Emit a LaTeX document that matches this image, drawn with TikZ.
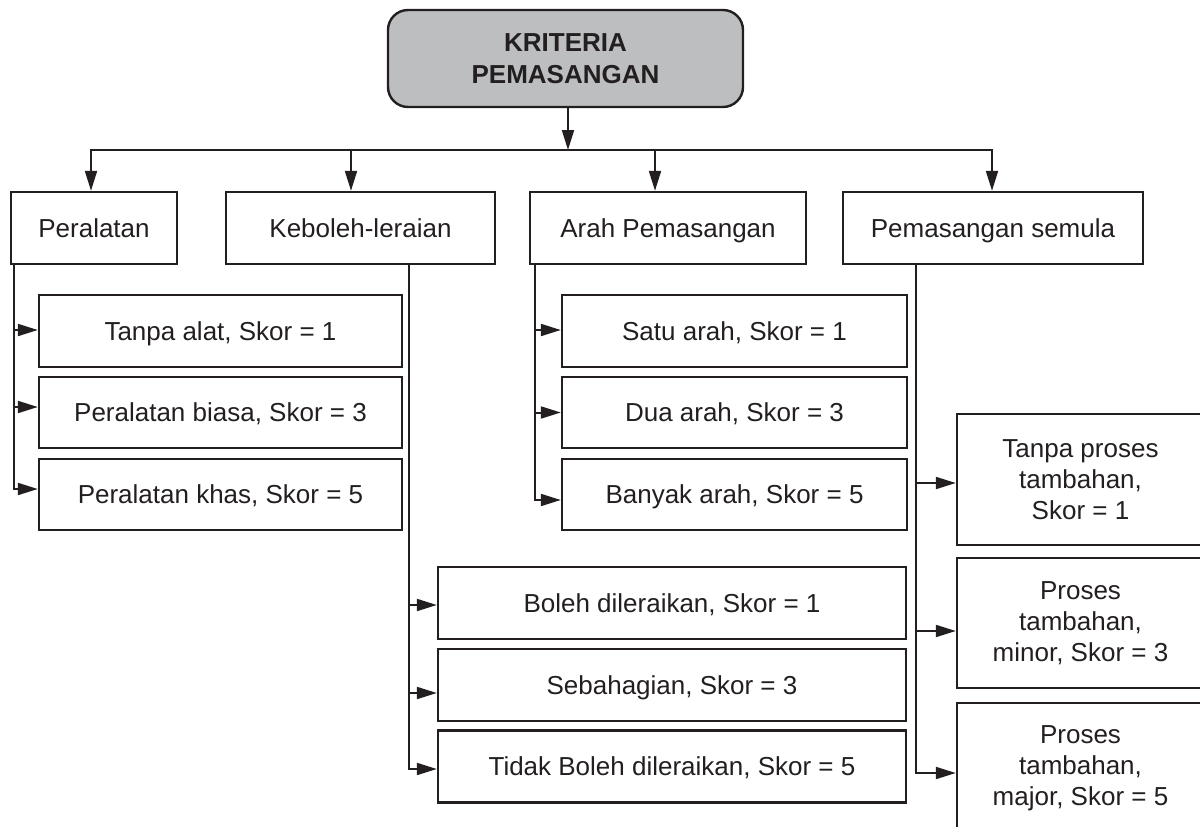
\documentclass[tikz,border=0pt]{standalone}
\usepackage{fontspec}
\setmainfont{Liberation Sans}
\usetikzlibrary{arrows.meta}
\definecolor{ink}{HTML}{231F20}
\definecolor{headfill}{HTML}{BCBEC0}

\begin{document}
\begin{tikzpicture}[x=1pt,y=-1pt,
  box/.style={draw=ink, line width=2.4pt, fill=white, text=ink, inner sep=0pt,
    align=center, font=\fontsize{26}{31}\selectfont},
  oneline/.style={box, text height=18.6pt, text depth=0pt},
  head/.style={box, fill=headfill, rounded corners=20pt,
    font=\fontsize{26}{32}\selectfont\bfseries},
  link/.style={draw=ink, line width=2pt},
  tip/.style={-{Triangle[length=20pt,width=12pt]}},
  arr/.style={link, tip},
]
\useasboundingbox (0,0) rectangle (1200,827);
\clip (0,0) rectangle (1200,827);

% root
\node[head, minimum width=355pt, minimum height=97pt] (top) at (565.5,58.5)
  {KRITERIA\\PEMASANGAN};

% first level
\node[oneline, minimum width=166pt, minimum height=72pt] (per)  at (94,228)    {Peralatan};
\node[oneline, minimum width=269pt, minimum height=72pt] (keb)  at (360.5,228) {Keboleh-leraian};
\node[oneline, minimum width=276pt, minimum height=72pt] (arah) at (668,228)   {Arah Pemasangan};
\node[oneline, minimum width=300pt, minimum height=72pt] (sem)  at (993,228)   {Pemasangan semula};

% Peralatan options
\node[oneline, minimum width=363pt, minimum height=71.5pt] (p1) at (220.5,331)   {Tanpa alat, Skor = 1};
\node[oneline, minimum width=363pt, minimum height=71.5pt] (p2) at (220.5,412.5) {Peralatan biasa, Skor = 3};
\node[oneline, minimum width=363pt, minimum height=71.5pt] (p3) at (220.5,494.5) {Peralatan khas, Skor = 5};

% Arah Pemasangan options
\node[oneline, minimum width=345pt, minimum height=71.5pt] (a1) at (734.5,331)   {Satu arah, Skor = 1};
\node[oneline, minimum width=345pt, minimum height=71.5pt] (a2) at (734.5,412.5) {Dua arah, Skor = 3};
\node[oneline, minimum width=345pt, minimum height=71.5pt] (a3) at (734.5,494.5) {Banyak arah, Skor = 5};

% Keboleh-leraian options
\node[oneline, minimum width=468pt, minimum height=72pt] (k1) at (672,603)   {Boleh dileraikan, Skor = 1};
\node[oneline, minimum width=468pt, minimum height=72pt] (k2) at (672,685)   {Sebahagian, Skor = 3};
\node[oneline, minimum width=468pt, minimum height=72pt] (k3) at (672,766.5) {Tidak Boleh dileraikan, Skor = 5};

% Pemasangan semula options
\node[box, minimum width=247pt, minimum height=131pt] (s1) at (1080.5,479.5) {Tanpa proses\\tambahan,\\Skor = 1};
\node[box, minimum width=247pt, minimum height=130pt] (s2) at (1080.5,623)   {Proses\\tambahan,\\minor, Skor = 3};
\node[box, minimum width=247pt, minimum height=131pt] (s3) at (1080.5,768.5) {Proses\\tambahan,\\major, Skor = 5};

% root to first level
\coordinate (bus) at (568,150);
\coordinate (bl) at (91,150);
\coordinate (br) at (992,150);
\coordinate (dk) at (351,150);
\coordinate (da) at (655,150);
\draw[arr] (top.south -| bus) -- (bus);
\draw[link, {Triangle[length=20pt,width=12pt]}-{Triangle[length=20pt,width=12pt]}]
  (bl |- per.north) -- (bl) -- (br) -- (br |- sem.north);
\draw[arr] (dk) -- (dk |- keb.north);
\draw[arr] (da) -- (da |- arah.north);

% arrow entry points on the option boxes
\coordinate (p1in) at ([yshift=1pt]p1.west);
\coordinate (p2in) at ([yshift=5.5pt]p2.west);
\coordinate (p3in) at ([yshift=5.5pt]p3.west);
\coordinate (a1in) at ([yshift=1pt]a1.west);
\coordinate (a2in) at (a2.west);
\coordinate (a3in) at ([yshift=-5.5pt]a3.west);
\coordinate (k1in) at ([yshift=-2pt]k1.west);
\coordinate (k2in) at ([yshift=-8pt]k2.west);
\coordinate (k3in) at ([yshift=-2.5pt]k3.west);
\coordinate (s1in) at ([yshift=-3.5pt]s1.west);
\coordinate (s2in) at ([yshift=-8pt]s2.west);
\coordinate (s3in) at ([yshift=-4.5pt]s3.west);

% branch rails
\coordinate (vp) at (14,0);
\coordinate (vk) at (409,0);
\coordinate (va) at (535,0);
\coordinate (vs) at (916,0);

\draw[arr] (per.south -| vp) |- (p3in);
\draw[arr] (p1in -| vp) -- (p1in);
\draw[arr] (p2in -| vp) -- (p2in);

\draw[arr] (arah.south -| va) |- (a3in);
\draw[arr] (a1in -| va) -- (a1in);
\draw[arr] (a2in -| va) -- (a2in);

\draw[arr] (keb.south -| vk) |- (k3in);
\draw[arr] (k1in -| vk) -- (k1in);
\draw[arr] (k2in -| vk) -- (k2in);

\draw[arr] (sem.south -| vs) |- (s3in);
\draw[arr] (s1in -| vs) -- (s1in);
\draw[arr] (s2in -| vs) -- (s2in);
\end{tikzpicture}
\end{document}
